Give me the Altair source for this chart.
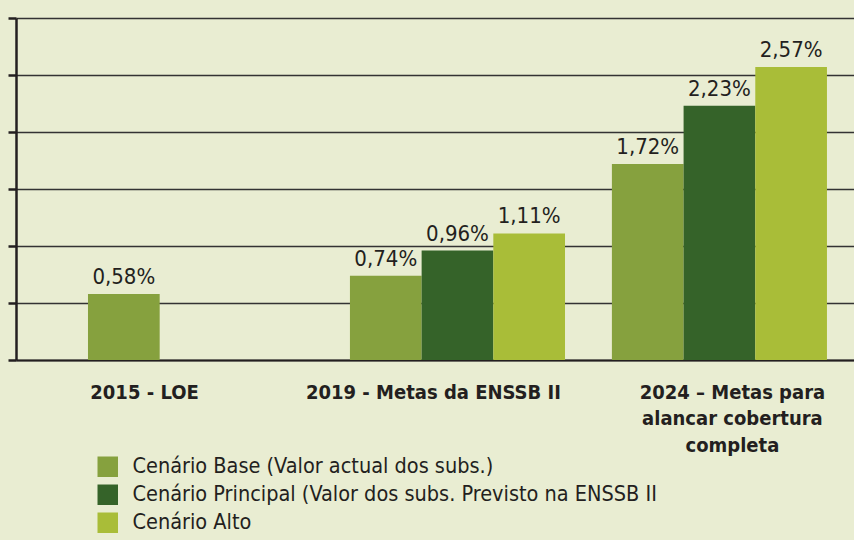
import json
import altair as alt
import pandas as pd

# ---- data ----
groups = ["2015", "2019", "2024"]
group_labels = [
    ["2015 - LOE"],
    ["2019 - Metas da ENSSB II"],
    ["2024 – Metas para", "alancar cobertura", "completa"],
]
series = [
    "Cenário Base (Valor actual dos subs.)",
    "Cenário Principal (Valor dos subs. Previsto na ENSSB II",
    "Cenário Alto",
]
base_vals = [0.58, 0.74, 1.72]
principal_vals = [None, 0.96, 2.23]
alto_vals = [None, 1.11, 2.57]
colors = ["#86a13e", "#356329", "#a9bd38"]

rows = []
for s, vals in zip(series, [base_vals, principal_vals, alto_vals]):
    for g, v in zip(groups, vals):
        if v is None:
            continue
        rows.append({"group": g, "series": s, "value": v,
                     "label": f"{v:.2f}".replace(".", ",") + "%"})
df = pd.DataFrame(rows)

FONT = "DejaVu Sans Condensed, Liberation Sans Narrow, Liberation Sans, sans-serif"
TXT = "#231f20"
BG = "#e9edd2"

# label expression built from the label lists
expr = json.dumps(group_labels[-1])
for g, lab in reversed(list(zip(groups[:-1], group_labels[:-1]))):
    expr = f"datum.value === {json.dumps(g)} ? {json.dumps(lab[0])} : ({expr})"

x_enc = alt.X(
    "group:N",
    sort=groups,
    scale=alt.Scale(paddingInner=0.179, paddingOuter=0.189, align=0.727),
    axis=alt.Axis(
        title=None,
        labelExpr=expr,
        labelFont=FONT,
        labelFontSize=20,
        labelFontWeight="bold",
        labelColor=TXT,
        labelLineHeight=26.5,
        labelBaseline="top",
        labelPadding=22,
        labelLimit=0,
        labelAngle=0,
        ticks=False,
        domain=True,
        domainColor=TXT,
        domainWidth=2,
        grid=False,
        labelOffset={"condition": [
            {"test": "datum.value === '2015'", "value": -51},
            {"test": "datum.value === '2019'", "value": -24},
        ], "value": 13},
    ),
)
xoff = alt.XOffset("series:N", sort=series,
                   scale=alt.Scale(paddingInner=0, paddingOuter=0))
y_enc = alt.Y(
    "value:Q",
    scale=alt.Scale(domain=[0, 3], nice=False),
    axis=alt.Axis(
        title=None, labels=False, values=[0, 0.5, 1, 1.5, 2, 2.5, 3],
        grid=True, gridColor="#333333", gridWidth=1.3, gridOpacity=1,
        tickSize=8, tickWidth=2.5, tickColor=TXT,
        domainColor=TXT, domainWidth=2.5,
    ),
)

bars = alt.Chart(df).mark_bar().encode(
    x=x_enc,
    xOffset=xoff,
    y=y_enc,
    color=alt.Color(
        "series:N", sort=series,
        scale=alt.Scale(domain=series, range=colors),
        legend=alt.Legend(
            orient="none", legendX=81, legendY=438, title=None,
            symbolType="square", symbolSize=420, symbolStrokeWidth=0,
            symbolOpacity=1, labelFont=FONT, labelFontSize=21.5,
            labelColor=TXT, rowPadding=5, labelOffset=14, labelLimit=0,
        ),
    ),
)

texts = alt.Chart(df).mark_text(
    baseline="bottom", dy=-5, font=FONT, fontSize=22, color=TXT
).encode(
    x=alt.X("group:N", sort=groups),
    xOffset=xoff,
    y=alt.Y("value:Q"),
    text="label:N",
)

chart = alt.layer(bars, texts).properties(
    width=838, height=342,
    autosize=alt.AutoSizeParams(type="none"),
    padding={"left": 16, "top": 18, "right": 0, "bottom": 180},
    background=BG,
).configure_view(stroke=None)

chart.save("out.html", embed_options={"renderer": "svg", "actions": False})
